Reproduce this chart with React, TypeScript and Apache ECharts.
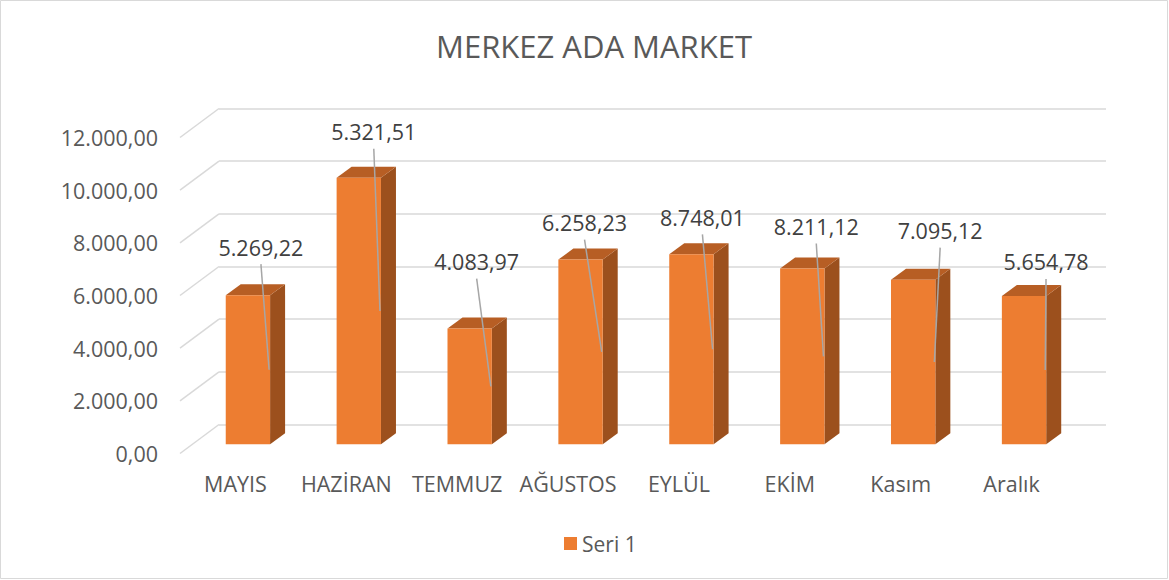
import React, { useEffect, useRef } from "react";
import * as echarts from "echarts";

const categories = ["MAYIS", "HAZİRAN", "TEMMUZ", "AĞUSTOS", "EYLÜL", "EKİM", "Kasım", "Aralık"];
// bar heights
const barValues = [5660, 10120, 4390, 7010, 7210, 6670, 6250, 5630];
// data label texts shown on the chart
const labelValues = [5269.22, 5321.51, 4083.97, 6258.23, 8748.01, 8211.12, 7095.12, 5654.78];
const yTicks = [0, 2000, 4000, 6000, 8000, 10000, 12000];
const seriesName = "Seri 1";
const titleText = "MERKEZ ADA MARKET";

// layout (manually placed data labels, relative to bar's front top centre)
const labelOffsets: [number, number][] = [
  [13, -48], [15, -46], [7, -67], [4, -37], [11, -37], [14, -42], [27, -49], [22, -34],
];

const DX = 39; // floor depth, px
const DY = 29;
const BAR_DEPTH_POS = 0.32;
const SIDE_DX = 15;
const SIDE_DY = 11;

const FONT = "'Open Sans', 'Liberation Sans', sans-serif";

function fmt(n: number): string {
  const [i, d] = n.toFixed(2).split(".");
  return i.replace(/\B(?=(\d{3})+(?!\d))/g, ".") + "," + d;
}

export default function App() {
  const ref = useRef<HTMLDivElement>(null);
  useEffect(() => {
    if (!ref.current) return;
    const chart = echarts.init(ref.current, undefined, { renderer: "svg" });
    const option: any = {
      animation: false,
      backgroundColor: "#ffffff",
      title: {
        text: titleText,
        left: 589,
        top: 25,
        textAlign: "center",
        textStyle: { fontFamily: FONT, fontSize: 31, fontWeight: "normal", color: "#595959" },
      },
      legend: {
        left: 559,
        top: 528,
        itemWidth: 13,
        itemHeight: 13,
        itemGap: 10,
        textStyle: { fontFamily: FONT, fontSize: 21, color: "#595959", padding: [0, 0, 0, 0] },
        data: [{ name: seriesName, icon: "rect", itemStyle: { color: "#ED7D31" } }],
      },
      graphic: [
        {
          type: "rect",
          shape: { x: 0.5, y: 0.5, width: 1167, height: 578 },
          style: { fill: "none", stroke: "#D9D9D9", lineWidth: 1 },
          silent: true,
        },
      ],
      grid: [
        { left: 219, right: 63, top: 108.5, bottom: 155.5 },
        { left: 180, right: 102, top: 137.5, bottom: 126.5 },
      ],
      xAxis: [
        {
          type: "category",
          gridIndex: 0,
          data: categories,
          axisLine: { show: false },
          axisTick: { show: false },
          axisLabel: { show: false },
        },
        {
          type: "category",
          gridIndex: 1,
          data: categories,
          axisLine: { show: false },
          axisTick: { show: false },
          axisLabel: { margin: 19, fontFamily: FONT, fontSize: 21.5, color: "#595959", interval: 0 },
        },
      ],
      yAxis: [
        {
          type: "value",
          gridIndex: 0,
          min: 0,
          max: 12000,
          interval: 2000,
          axisLabel: { show: false },
          axisLine: { show: false },
          axisTick: { show: false },
          splitLine: { show: true, lineStyle: { color: "#D9D9D9", width: 1.5 } },
        },
        {
          type: "value",
          gridIndex: 1,
          min: 0,
          max: 12000,
          interval: 2000,
          axisLine: { show: false },
          axisTick: { show: false },
          splitLine: { show: false },
          axisLabel: {
            margin: 22,
            fontFamily: FONT,
            fontSize: 21.5,
            color: "#595959",
            formatter: (v: number) => fmt(v),
          },
        },
      ],
      series: [
        {
          type: "custom",
          name: "diag",
          xAxisIndex: 0,
          yAxisIndex: 0,
          clip: false,
          silent: true,
          data: yTicks.map((v) => [0, v]),
          renderItem: (params: any, api: any) => {
            const p = api.coord([0, api.value(1)]);
            const left = params.coordSys.x;
            return {
              type: "line",
              shape: { x1: left - DX, y1: p[1] + DY, x2: left, y2: p[1] },
              style: { stroke: "#D9D9D9", lineWidth: 1.5 },
            };
          },
          z: 1,
        },
        {
          type: "custom",
          name: seriesName,
          xAxisIndex: 1,
          yAxisIndex: 1,
          clip: false,
          itemStyle: { color: "#ED7D31" },
          data: barValues.map((v, i) => [i, v, labelValues[i]]),
          renderItem: (params: any, api: any) => {
            const idx = api.value(0);
            const base = api.coord([idx, 0]);
            const topP = api.coord([idx, api.value(1)]);
            const band = api.size([1, 0])[0];
            const w = band * 0.4;
            const cx = base[0] + BAR_DEPTH_POS * DX;
            const bottom = base[1] - BAR_DEPTH_POS * DY;
            const top = topP[1] - BAR_DEPTH_POS * DY;
            const L = cx - w / 2;
            const R = cx + w / 2;
            const off = labelOffsets[params.dataIndex] || [12, -45];
            const lx = cx + off[0];
            const ly = top + off[1];
            return {
              type: "group",
              children: [
                {
                  type: "polygon",
                  shape: {
                    points: [
                      [R, top],
                      [R + SIDE_DX, top - SIDE_DY],
                      [R + SIDE_DX, bottom - SIDE_DY],
                      [R, bottom],
                    ],
                  },
                  style: { fill: "#9C501D" },
                },
                {
                  type: "polygon",
                  shape: {
                    points: [
                      [L, top],
                      [L + SIDE_DX, top - SIDE_DY],
                      [R + SIDE_DX, top - SIDE_DY],
                      [R, top],
                    ],
                  },
                  style: { fill: "#B75E24" },
                },
                {
                  type: "rect",
                  shape: { x: L, y: top, width: w, height: bottom - top },
                  style: { fill: "#ED7D31" },
                },
                {
                  type: "line",
                  shape: { x1: lx, y1: ly + 17, x2: R - 1, y2: (top + bottom) / 2 },
                  style: { stroke: "#A6A6A6", lineWidth: 1.5 },
                },
                {
                  type: "text",
                  x: lx,
                  y: ly,
                  style: {
                    text: fmt(api.value(2)),
                    fill: "#404040",
                    font: `21.5px ${FONT}`,
                    align: "center",
                    verticalAlign: "middle",
                  },
                },
              ],
            };
          },
          z: 2,
        },
      ],
    };
    chart.setOption(option);
    return () => chart.dispose();
  }, []);
  return (
    <div
      ref={ref}
      style={{ position: "absolute", left: 0, top: 0, width: 1169, height: 580 }}
    />
  );
}
